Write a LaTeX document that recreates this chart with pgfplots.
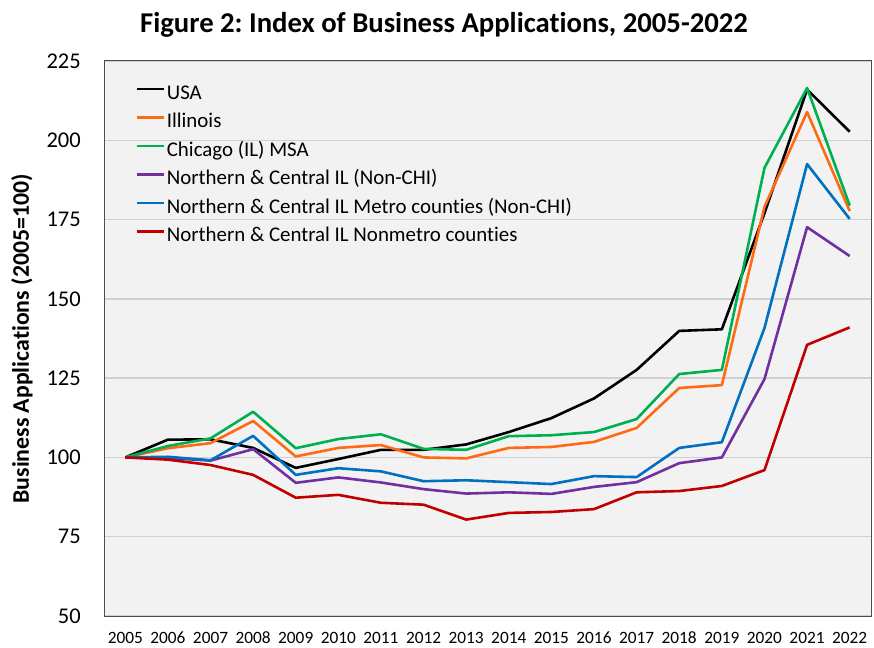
\documentclass[border=0pt]{standalone}
\usepackage{fontspec}
\setmainfont{Carlito}[Ligatures={NoCommon}]
\usepackage{pgfplots}
\pgfplotsset{compat=1.18}
\frenchspacing
\definecolor{cUSA}{HTML}{000000}
\definecolor{cIL}{HTML}{FF6A13}
\definecolor{cCHI}{HTML}{00B050}
\definecolor{cNC}{HTML}{7030A0}
\definecolor{cMET}{HTML}{0070C0}
\definecolor{cNON}{HTML}{C00000}
\definecolor{plotbg}{HTML}{F2F2F2}
\definecolor{gridc}{HTML}{D0D0D0}
\begin{document}
\begin{tikzpicture}
\useasboundingbox (-104bp,-32bp) rectangle (770bp,616bp);
\begin{axis}[
  at={(0,0)}, anchor=south west,
  scale only axis, width=767bp, height=555bp,
  xmin=2004.5, xmax=2022.5, ymin=50, ymax=225,
  xtick={2005,...,2022}, ytick={50,75,...,225},
  xticklabel style={font=\fontsize{17.3bp}{18bp}\selectfont, anchor=base, inner sep=0pt, yshift=-27bp},
  yticklabel style={font=\fontsize{22.5bp}{24bp}\selectfont, anchor=east, inner sep=0pt, xshift=-23bp},
  /pgf/number format/assume math mode=true,
  /pgf/number format/1000 sep={},
  tick style={draw=none},
  axis background/.style={fill=plotbg},
  axis line style={draw=black!70, line width=1bp},
  ymajorgrids, grid style={gridc, line width=1.5bp},
  legend cell align=left,
  legend style={at={(rel axis cs:0.0405,0.957)}, anchor=north west, draw=none, fill=none,
    font=\fontsize{20.9bp}{22bp}\selectfont, inner sep=0pt, row sep=10.5bp, column sep=2bp,
    nodes={inner sep=0pt, text height=14bp, text depth=4bp}},
  legend image code/.code={\draw[#1, line width=2.6bp] (0bp,5bp) -- (27bp,5bp);},
  every axis plot/.append style={line width=2.6bp, mark=none, line join=round},
  clip=false,
]
\addplot[cUSA] coordinates {(2005,100) (2006,105.6) (2007,105.7) (2008,103.0) (2009,96.7) (2010,99.5) (2011,102.4) (2012,102.4) (2013,104.1) (2014,108.0) (2015,112.4) (2016,118.6) (2017,127.6) (2018,139.9) (2019,140.4) (2020,177.0) (2021,216.0) (2022,202.7)};
\addlegendentry{USA}
\addplot[cIL] coordinates {(2005,100) (2006,102.9) (2007,104.5) (2008,111.5) (2009,100.3) (2010,103.0) (2011,103.9) (2012,100.0) (2013,99.7) (2014,103.0) (2015,103.3) (2016,104.9) (2017,109.3) (2018,121.9) (2019,122.8) (2020,179.0) (2021,208.9) (2022,177.7)};
\addlegendentry{Illinois}
\addplot[cCHI] coordinates {(2005,100) (2006,103.6) (2007,106.0) (2008,114.4) (2009,102.9) (2010,105.8) (2011,107.3) (2012,102.7) (2013,102.4) (2014,106.7) (2015,107.0) (2016,108.0) (2017,112.1) (2018,126.3) (2019,127.6) (2020,191.3) (2021,216.5) (2022,179.4)};
\addlegendentry{Chicago (IL) MSA}
\addplot[cNC] coordinates {(2005,100) (2006,99.8) (2007,99.0) (2008,102.6) (2009,92.0) (2010,93.7) (2011,92.1) (2012,90.0) (2013,88.6) (2014,89.0) (2015,88.5) (2016,90.7) (2017,92.2) (2018,98.2) (2019,100.0) (2020,124.7) (2021,172.6) (2022,163.5)};
\addlegendentry{Northern \& Central IL (Non-CHI)}
\addplot[cMET] coordinates {(2005,100) (2006,100.2) (2007,99.1) (2008,106.8) (2009,94.5) (2010,96.6) (2011,95.6) (2012,92.5) (2013,92.8) (2014,92.2) (2015,91.6) (2016,94.1) (2017,93.8) (2018,103.0) (2019,104.8) (2020,140.8) (2021,192.5) (2022,175.2)};
\addlegendentry{Northern \& Central IL Metro counties (Non-CHI)}
\addplot[cNON] coordinates {(2005,100) (2006,99.3) (2007,97.6) (2008,94.5) (2009,87.3) (2010,88.2) (2011,85.7) (2012,85.1) (2013,80.4) (2014,82.5) (2015,82.8) (2016,83.7) (2017,89.0) (2018,89.4) (2019,91.0) (2020,96.0) (2021,135.5) (2022,141.0)};
\addlegendentry{Northern \& Central IL Nonmetro counties}
\end{axis}
\node[anchor=base, font=\fontsize{28.7bp}{30bp}\selectfont\bfseries, inner sep=0pt] at (340bp,583bp) {Figure 2: Index of Business Applications, 2005-2022};
\node[rotate=90, font=\fontsize{23.8bp}{25bp}\selectfont\bfseries, inner sep=0pt] at (-82bp,277bp) {Business Applications (2005=100)};
\end{tikzpicture}
\end{document}
